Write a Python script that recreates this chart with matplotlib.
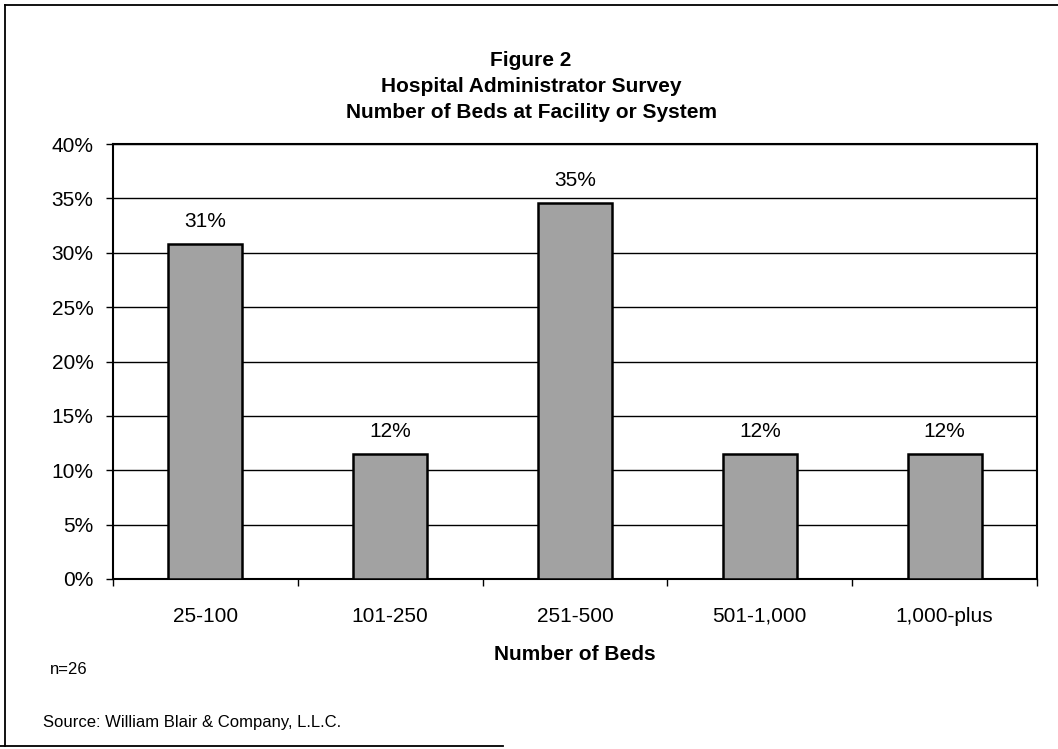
import matplotlib.pyplot as plt
import numpy as np
from matplotlib.lines import Line2D

CATEGORIES = ["25-100", "101-250", "251-500", "501-1,000", "1,000-plus"]
SHARES = [30.8, 11.5, 34.6, 11.5, 11.5]
SHARE_LABELS = ["31%", "12%", "35%", "12%", "12%"]
Y_TICKS = [0, 5, 10, 15, 20, 25, 30, 35, 40]

plt.rcParams["font.family"] = ["Liberation Sans", "DejaVu Sans"]

W, H = 1058, 749
fig = plt.figure(figsize=(W / 100, H / 100), dpi=100)
fig.patch.set_facecolor("white")


def fx(px):
    return px / W


def fy(py):
    return 1 - py / H


# plot area in pixels (left, top, right, bottom)
px_left, px_top, px_right, px_bottom = 113, 144, 1037, 579
ax = fig.add_axes([fx(px_left), fy(px_bottom),
                   (px_right - px_left) / W, (px_bottom - px_top) / H])

x = np.arange(len(CATEGORIES))
ax.bar(x, SHARES, width=0.4, color="#a2a2a2", edgecolor="black",
       linewidth=1.8, zorder=3)
for xi, val, lab in zip(x, SHARES, SHARE_LABELS):
    ax.text(xi, val + 1.2, lab, ha="center", va="bottom", fontsize=15)

ax.set_xlim(-0.5, len(CATEGORIES) - 0.5)
ax.set_ylim(0, 40)
ax.set_yticks(Y_TICKS)
ax.set_yticklabels([f"{t}%" for t in Y_TICKS], fontsize=15)
ax.yaxis.grid(True, color="black", linewidth=1.0, zorder=0)
ax.set_axisbelow(True)

ax.set_xticks(x)
ax.set_xticklabels(CATEGORIES, fontsize=15)
ax.tick_params(axis="x", length=0, pad=20)
ax.set_xticks(np.arange(-0.5, len(CATEGORIES), 1.0), minor=True)
ax.tick_params(axis="x", which="minor", length=5, width=1, direction="out")
ax.tick_params(axis="y", length=5, width=1, direction="out", pad=9)

for side in ["left", "bottom", "right", "top"]:
    ax.spines[side].set_linewidth(1.5)
    ax.spines[side].set_color("black")

ax.set_xlabel("Number of Beds", fontsize=15, fontweight="bold", labelpad=14)

# title block
for py, line in [(61, "Figure 2"), (87, "Hospital Administrator Survey"),
                 (113, "Number of Beds at Facility or System")]:
    fig.text(fx(531), fy(py), line, ha="center", va="center",
             fontsize=15, fontweight="bold")

fig.text(fx(50), fy(670), "n=26", ha="left", va="center", fontsize=12)
fig.text(fx(43), fy(722), "Source: William Blair & Company, L.L.C.",
         ha="left", va="center", fontsize=12)

# outer frame from the scanned page
frame = dict(color="black", linewidth=1.3, transform=fig.transFigure)
fig.add_artist(Line2D([fx(5), fx(5)], [fy(5), fy(746)], **frame))
fig.add_artist(Line2D([fx(5), 1.0], [fy(5), fy(5)], **frame))
fig.add_artist(Line2D([0, fx(503)], [fy(746), fy(746)], **frame))

fig.savefig("out.png", dpi=100)
